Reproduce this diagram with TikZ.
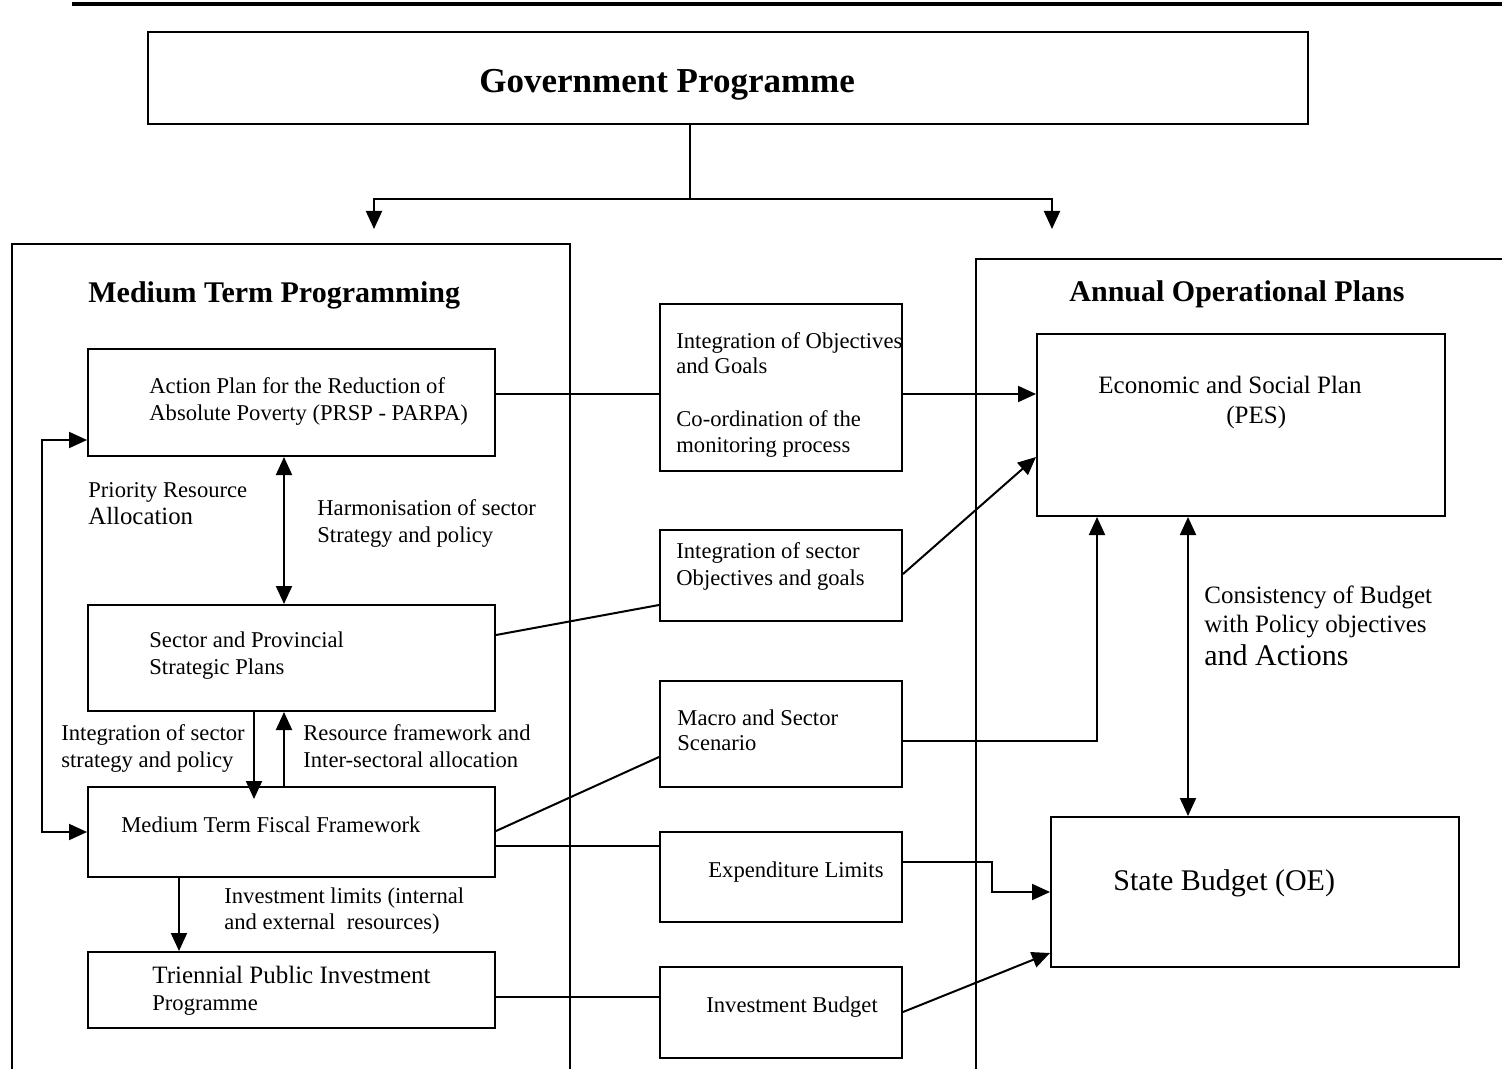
\documentclass[tikz,border=0pt]{standalone}
\usepackage{fontspec}
\setmainfont{Liberation Serif}
\usetikzlibrary{arrows.meta,fit,calc}
\begin{document}
\begin{tikzpicture}[x=0.5pt,y=-0.5pt,
  box/.style={draw, line width=1pt, inner sep=0pt},
  frame/.style={draw, line width=0.8pt, inner sep=0pt},
  tx/.style={anchor=base west, inner sep=0pt, font=\fontsize{11.3}{13.5}\selectfont},
  tm/.style={anchor=base west, inner sep=0pt, font=\fontsize{12.5}{14}\selectfont},
  tl/.style={anchor=base west, inner sep=0pt, font=\fontsize{15}{18}\selectfont},
  hd/.style={anchor=base west, inner sep=0pt, font=\fontsize{15}{18}\selectfont\bfseries},
  con/.style={line width=1pt},
  arr/.style={con, -{Triangle[length=9pt,width=8pt]}},
  darr/.style={con, {Triangle[length=9pt,width=8pt]}-{Triangle[length=9pt,width=8pt]}},
]
\clip (0,0) rectangle (1502,1069);
% top rule
\coordinate (r1) at (72,4);
\coordinate (r2) at (1510,4);
\draw[line width=1.6pt] (r1) -- (r2);

% boxes
\node[box, fit={(148,32) (1308,124)}] (gov) {};
\node[frame, fit={(12,244) (570,1090)}] (mtp) {};
\node[frame, fit={(976,259) (1530,1090)}] (aop) {};
\node[box, fit={(88,349) (495,456)}] (ap) {};
\node[box, fit={(88,605) (495,711)}] (sp) {};
\node[box, fit={(88,787) (495,877)}] (mtff) {};
\node[box, fit={(88,952) (495,1028)}] (tpip) {};
\node[box, fit={(660,304) (902,471)}] (io) {};
\node[box, fit={(660,530) (902,621)}] (is) {};
\node[box, fit={(660,681) (902,787)}] (ms) {};
\node[box, fit={(660,832) (902,922)}] (el) {};
\node[box, fit={(660,967) (902,1058)}] (ib) {};
\node[box, fit={(1037,334) (1445,516)}] (pes) {};
\node[box, fit={(1051,817) (1459,967)}] (sb) {};

% texts
\node[anchor=base west, inner sep=0pt, font=\fontsize{17.5}{20}\selectfont\bfseries] (tgov) at (479,93) {Government Programme};
\node[hd] (tmtp) at (88,303) {Medium Term Programming};
\node[hd] (taop) at (1069,302) {Annual Operational Plans};
\node[tx] (tap1) at (149,393) {Action Plan for the Reduction of};
\node[tx] (tap2) at (149,420) {Absolute Poverty (PRSP - PARPA)};
\node[tx] (tpr1) at (88,497) {Priority Resource};
\node[anchor=base west, inner sep=0pt, font=\fontsize{12.4}{14}\selectfont] (tpr2) at (88,524) {Allocation};
\node[tx] (thr1) at (317,515) {Harmonisation of sector};
\node[tx] (thr2) at (317,542) {Strategy and policy};
\node[tx] (tsp1) at (149,647) {Sector and Provincial};
\node[tx] (tsp2) at (149,674) {Strategic Plans};
\node[tx] (tiss1) at (61,740) {Integration of sector};
\node[tx] (tiss2) at (61,767) {strategy and policy};
\node[tx] (trf1) at (303,740) {Resource framework and};
\node[tx] (trf2) at (303,767) {Inter-sectoral allocation};
\node[tx] (tmtff) at (121,832) {Medium Term Fiscal Framework};
\node[tx] (til1) at (224,903) {Investment limits (internal};
\node[tx] (til2) at (224,929) {and external\ \ resources)};
\node[tm] (ttp1) at (152,983) {Triennial Public Investment};
\node[tx] (ttp2) at (152,1010) {Programme};
\node[tx] (tio1) at (676,348) {Integration of Objectives};
\node[tx] (tio2) at (676,373) {and Goals};
\node[tx] (tio3) at (676,426) {Co-ordination of the};
\node[tx] (tio4) at (676,452) {monitoring process};
\node[tx] (tis1) at (676,558) {Integration of sector};
\node[tx] (tis2) at (676,585) {Objectives and goals};
\node[tx] (tms1) at (677,725) {Macro and Sector};
\node[tx] (tms2) at (677,750) {Scenario};
\node[tx] (tel) at (708,877) {Expenditure Limits};
\node[tx] (tib) at (706,1012) {Investment Budget};
\node[tl] (tsb) at (1113,890) {State Budget (OE)};
\node[tm] (tpes1) at (1098,393) {Economic and Social Plan};
\node[tm] (tpes2) at (1226,423) {(PES)};
\node[tm] (tc1) at (1204,603) {Consistency of Budget};
\node[tm] (tc2) at (1204,632) {with Policy objectives};
\node[tl] (tc3) at (1204,665) {and Actions};

% connectors
\coordinate (split) at (690,199);
\coordinate (dl) at (374,229);
\coordinate (dr) at (1052,229);
\draw[con] (gov.south -| split) -- (split);
\draw[arr] (split) -| (dl);
\draw[arr] (split) -| (dr);

\draw[con] (ap.east |- 0,394) -- (io.west |- 0,394);
\draw[arr] (io.east |- 0,394) -- (pes.west |- 0,394);
\draw[darr] (ap.south -| 284,0) -- (sp.north -| 284,0);
\coordinate (loop) at (42,636);
\draw[darr] (ap.west |- 0,440) -| (loop) |- (mtff.west |- 0,832);
\draw[arr] (sp.south -| 254,0) -- ($(mtff.north -| 254,0)+(0,13)$);
\draw[arr] (mtff.north -| 284,0) -- (sp.south -| 284,0);
\draw[con] (sp.east |- 0,635) -- (is.west |- 0,605);
\draw[arr] (is.east |- 0,574) -- (pes.west |- 0,457);
\draw[con] (mtff.east |- 0,831) -- (ms.west |- 0,757);
\draw[arr] (ms.east |- 0,741) -| (pes.south -| 1097,0);
\draw[darr] (pes.south -| 1188,0) -- (sb.north -| 1188,0);
\draw[con] (mtff.east |- 0,846) -- (el.west |- 0,846);
\coordinate (elb) at (992,892);
\draw[arr] (el.east |- 0,862) -| (elb) -- (sb.west |- elb);
\draw[arr] (mtff.south -| 179,0) -- (tpip.north -| 179,0);
\draw[con] (tpip.east |- 0,997) -- (ib.west |- 0,997);
\draw[arr] (ib.east |- 0,1012) -- (sb.west |- 0,953);
\end{tikzpicture}
\end{document}
